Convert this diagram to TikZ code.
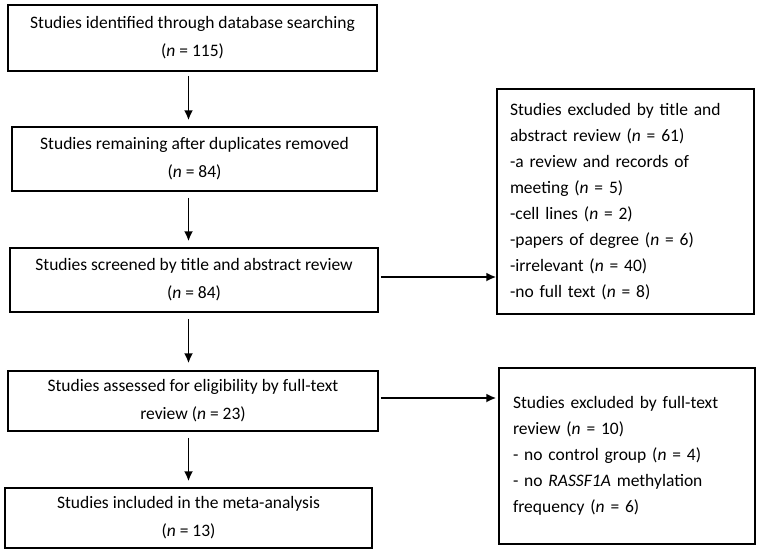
\documentclass[tikz,border=0pt]{standalone}
\usepackage{fontspec}
\setmainfont{Carlito}
\usetikzlibrary{arrows.meta}

\begin{document}
\begin{tikzpicture}[x=1pt, y=-1pt, line width=1.5pt,
    font=\fontsize{17.5}{28}\selectfont,
    stage/.style={draw, align=center, inner sep=0pt},
    excluded/.style={draw, align=left, inner ysep=0pt, font=\fontsize{17.5}{26}\selectfont},
    arr/.style={-{Latex[length=10pt, width=9pt]}, line width=1.8pt}]
    \useasboundingbox (0, 0) rectangle (760, 555);

    \node (ident) [stage, minimum width=369pt, minimum height=66pt] at (192.5, 38) {Studies identified through database searching\\(\textit{n} = 115)};
    \node (dedup) [stage, minimum width=365pt, minimum height=64pt] at (194.5, 159) {Studies remaining after duplicates removed\\(\textit{n} = 84)};
    \node (screen) [stage, minimum width=368pt, minimum height=64pt] at (194, 280) {Studies screened by title and abstract review\\(\textit{n} = 84)};
    \node (assess) [stage, minimum width=370pt, minimum height=60pt] at (193, 401) {Studies assessed for eligibility by full-text\\review (\textit{n} = 23)};
    \node (incl) [stage, minimum width=367pt, minimum height=60pt] at (188.5, 518) {Studies included in the meta-analysis\\(\textit{n} = 13)};

    \node (excl1) [excluded, inner xsep=13pt, text width=231pt, minimum height=225pt] at (625.5, 201.5) {Studies excluded by title and\\abstract review (\textit{n} = 61)\\-a review and records of\\meeting (\textit{n} = 5)\\-cell lines (\textit{n} = 2)\\-papers of degree (\textit{n} = 6)\\-irrelevant (\textit{n} = 40)\\-no full text (\textit{n} = 8)};
    \node (excl2) [excluded, inner xsep=14pt, text width=228pt, minimum height=176pt] at (627, 456) {Studies excluded by full-text\\review (\textit{n} = 10)\\- no control group (\textit{n} = 4)\\- no \textit{RASSF1A} methylation\\frequency (\textit{n} = 6)};

    \draw[arr, shorten <=4pt, shorten >=6pt] (ident.south -| incl) -- (dedup.north -| incl);
    \draw[arr, shorten <=6pt, shorten >=6pt] (dedup.south -| incl) -- (screen.north -| incl);
    \draw[arr, shorten <=6pt, shorten >=7pt] (screen.south -| incl) -- (assess.north -| incl);
    \draw[arr, shorten <=6pt, shorten >=6pt] (assess.south -| incl) -- (incl.north);
    \draw[arr, shorten <=2pt] ([yshift=3pt]screen.east) -- ([yshift=3pt]screen.east -| excl1.west);
    \draw[arr, shorten <=2pt, shorten >=2pt] ([yshift=3pt]assess.east) -- ([yshift=3pt]assess.east -| excl2.west);
\end{tikzpicture}
\end{document}
